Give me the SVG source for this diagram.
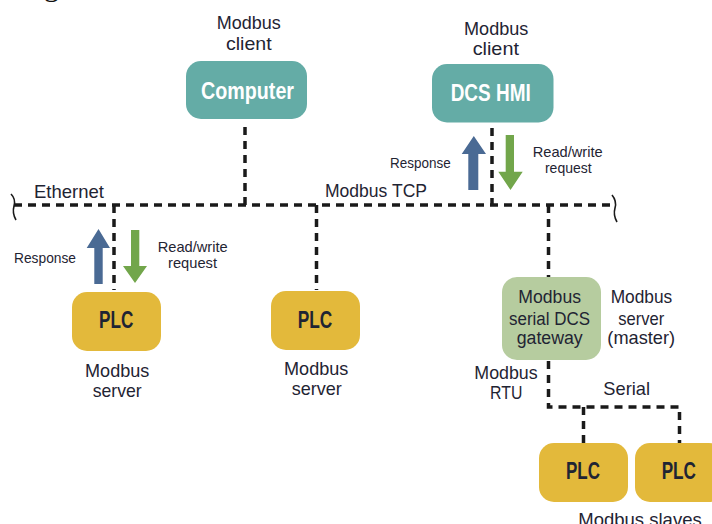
<svg xmlns="http://www.w3.org/2000/svg" width="712" height="524" viewBox="0 0 712 524">
<style>
text{font-family:"Liberation Sans Narrow","Liberation Sans",Arial,sans-serif;fill:#1f2433}
.lbl{font-size:19px}
.gl{font-size:18px;text-anchor:middle}
.sm{font-size:15px}
.nb{font-size:24px;font-weight:bold;text-anchor:middle}
.wt{fill:#ffffff}
.m{text-anchor:middle}
.teal{fill:#64aca6}
.yel{fill:#e3b93b}
.gw{fill:#b6cc9f}
.dash{fill:none;stroke:#1a1a1a;stroke-width:3.5;stroke-dasharray:8 6}
.brace{fill:none;stroke:#1a1a1a;stroke-width:1.6}
.up{fill:#4a6a94}
.dn{fill:#72a64b}
</style>
<rect width="712" height="524" fill="#ffffff"/>
<text x="44" y="-4" style="font-family:'Liberation Serif',serif;font-size:30px;fill:#111">g</text>

<g id="connectors">
  <path class="dash" d="M14,205 H614"/>
  <path class="dash" d="M245,127 V205"/>
  <path class="dash" d="M492,128 V205"/>
  <path class="dash" d="M114,205 V290"/>
  <path class="dash" d="M316.5,205 V290"/>
  <path class="dash" d="M548.5,205 V277"/>
  <path class="dash" d="M548.5,361 V407 H679.5 V443"/>
  <path class="dash" d="M583.5,407 V443"/>
  <path class="brace" d="M11,194 Q16,199 14,206 Q12,213 16,220"/>
  <path class="brace" d="M612,195 Q617,201 615,208 Q613,215 617,222"/>
  <polygon class="up" points="98.5,229 110,248 102.7,248 102.7,284 94.3,284 94.3,248 86.7,248"/>
  <polygon class="dn" points="131,230 139.3,230 139.3,266 147,266 135,283 123,266 131,266"/>
  <polygon class="up" points="473.8,136 486,154 478.3,154 478.3,190 468.3,190 468.3,154 461.7,154"/>
  <polygon class="dn" points="505.7,135 514,135 514,171.7 522.7,171.7 510.5,190 498.3,171.7 505.7,171.7"/>
  <text class="lbl" x="34" y="198" textLength="70" lengthAdjust="spacingAndGlyphs">Ethernet</text>
  <text class="lbl" x="325" y="197" textLength="102" lengthAdjust="spacingAndGlyphs">Modbus TCP</text>
  <text class="sm" x="14" y="262.5" textLength="62" lengthAdjust="spacingAndGlyphs">Response</text>
  <text class="sm" x="157.7" y="251.7" textLength="70" lengthAdjust="spacingAndGlyphs">Read/write</text>
  <text class="sm m" x="192.5" y="268" textLength="49" lengthAdjust="spacingAndGlyphs">request</text>
  <text class="sm" x="390" y="168.3" textLength="60.7" lengthAdjust="spacingAndGlyphs">Response</text>
  <text class="sm" x="532.7" y="156.7" textLength="70" lengthAdjust="spacingAndGlyphs">Read/write</text>
  <text class="sm m" x="568.3" y="173" textLength="46.7" lengthAdjust="spacingAndGlyphs">request</text>
  <text class="lbl m" x="506" y="379.3" textLength="63.4" lengthAdjust="spacingAndGlyphs">Modbus</text>
  <text class="lbl m" x="506.2" y="399.3" textLength="32.3" lengthAdjust="spacingAndGlyphs">RTU</text>
  <text class="lbl" x="603.3" y="395" textLength="46.7" lengthAdjust="spacingAndGlyphs">Serial</text>
</g>

<g id="computer">
  <text class="lbl m" x="248.8" y="29.3" textLength="64" lengthAdjust="spacingAndGlyphs">Modbus</text>
  <text class="lbl m" x="248.8" y="50" textLength="45.7" lengthAdjust="spacingAndGlyphs">client</text>
  <rect class="teal" x="186" y="61" width="121" height="58" rx="15"/>
  <text class="nb wt" x="247.5" y="98.5" textLength="93" lengthAdjust="spacingAndGlyphs">Computer</text>
</g>

<g id="dcs-hmi">
  <text class="lbl m" x="496.2" y="35" textLength="64.3" lengthAdjust="spacingAndGlyphs">Modbus</text>
  <text class="lbl m" x="495.8" y="55" textLength="46.3" lengthAdjust="spacingAndGlyphs">client</text>
  <rect class="teal" x="432" y="64" width="121.5" height="58.5" rx="15"/>
  <text class="nb wt" x="490.7" y="100.7" textLength="80" lengthAdjust="spacingAndGlyphs">DCS HMI</text>
</g>

<g id="plc-1">
  <rect class="yel" x="72" y="292" width="89" height="59" rx="15"/>
  <text class="nb" x="116.2" y="328.3" textLength="34.3" lengthAdjust="spacingAndGlyphs">PLC</text>
  <text class="lbl m" x="117.2" y="376.7" textLength="64.3" lengthAdjust="spacingAndGlyphs">Modbus</text>
  <text class="lbl m" x="117.2" y="396.7" textLength="49" lengthAdjust="spacingAndGlyphs">server</text>
</g>

<g id="plc-2">
  <rect class="yel" x="271" y="291" width="89" height="59" rx="15"/>
  <text class="nb" x="315" y="328" textLength="34.6" lengthAdjust="spacingAndGlyphs">PLC</text>
  <text class="lbl m" x="316.2" y="375" textLength="64.3" lengthAdjust="spacingAndGlyphs">Modbus</text>
  <text class="lbl m" x="316.7" y="395" textLength="50" lengthAdjust="spacingAndGlyphs">server</text>
</g>

<g id="gateway">
  <rect class="gw" x="502" y="277" width="99" height="83" rx="15"/>
  <text class="gl" x="549.7" y="303.3" textLength="62.7" lengthAdjust="spacingAndGlyphs">Modbus</text>
  <text class="gl" x="549.5" y="324.5" textLength="81" lengthAdjust="spacingAndGlyphs">serial DCS</text>
  <text class="gl" x="549.7" y="343.5" textLength="66" lengthAdjust="spacingAndGlyphs">gateway</text>
  <text class="lbl m" x="641.5" y="303.3" textLength="61.6" lengthAdjust="spacingAndGlyphs">Modbus</text>
  <text class="lbl m" x="641.3" y="325" textLength="46" lengthAdjust="spacingAndGlyphs">server</text>
  <text class="lbl m" x="641.2" y="344" textLength="67.7" lengthAdjust="spacingAndGlyphs">(master)</text>
</g>

<g id="plc-slave-1">
  <rect class="yel" x="539" y="443" width="89" height="59" rx="15"/>
  <text class="nb" x="583" y="479.3" textLength="34" lengthAdjust="spacingAndGlyphs">PLC</text>
</g>

<g id="plc-slave-2">
  <rect class="yel" x="635" y="443" width="89" height="59" rx="15"/>
  <text class="nb" x="678.8" y="479.3" textLength="34.3" lengthAdjust="spacingAndGlyphs">PLC</text>
</g>

<text class="lbl m" x="640" y="525.5" textLength="123.4" lengthAdjust="spacingAndGlyphs">Modbus slaves</text>
</svg>
